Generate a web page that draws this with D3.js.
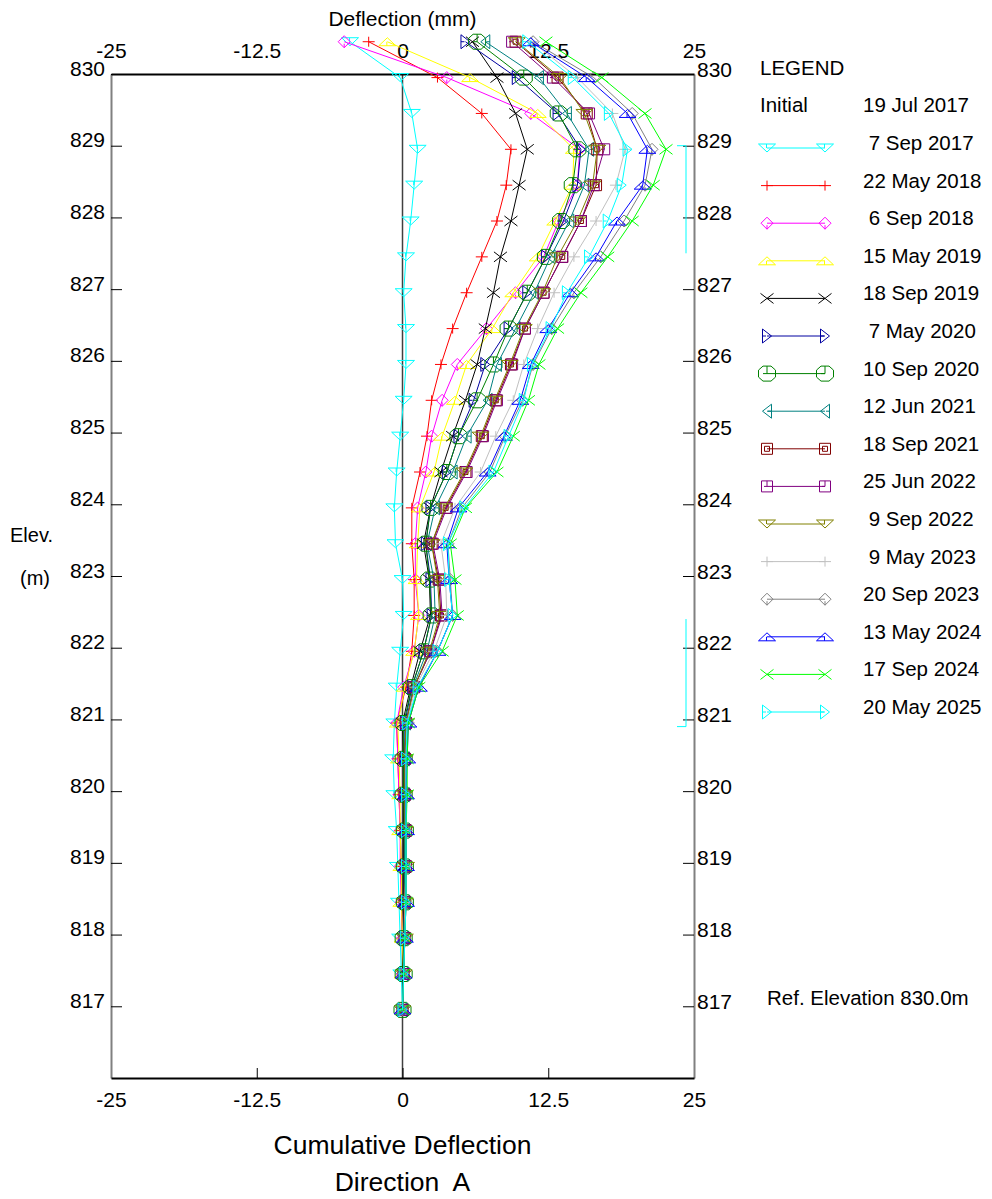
<!DOCTYPE html>
<html><head><meta charset="utf-8">
<script src="https://cdn.jsdelivr.net/npm/d3@7"></script>
<style>
html,body{margin:0;padding:0;background:#fff;}
svg{display:block;font-family:"Liberation Sans",Arial,sans-serif;}
</style></head><body>
<svg id="chart" width="992" height="1199"></svg>
<script>
// ---------------- DATA ----------------
const elevations = [830.45, 829.95, 829.45, 828.95, 828.45, 827.95, 827.45, 826.95, 826.45, 825.95,
  825.45, 824.95, 824.45, 823.95, 823.45, 822.95, 822.45, 821.95, 821.45, 820.95,
  820.45, 819.95, 819.45, 818.95, 818.45, 817.95, 817.45, 816.95];
const xTicks = [-25, -12.5, 0, 12.5, 25];
const yTicks = [817, 818, 819, 820, 821, 822, 823, 824, 825, 826, 827, 828, 829, 830];
const initialLabel = "Initial";
const initialDate = "19 Jul 2017";
const seriesDates = ["7 Sep 2017", "22 May 2018", "6 Sep 2018", "15 May 2019", "18 Sep 2019",
  "7 May 2020", "10 Sep 2020", "12 Jun 2021", "18 Sep 2021", "25 Jun 2022", "9 Sep 2022",
  "9 May 2023", "20 Sep 2023", "13 May 2024", "17 Sep 2024", "20 May 2025"];
const seriesColors = ["#00ffff", "#ff0000", "#ff00ff", "#ffff00", "#000000", "#0000a0", "#008000",
  "#008080", "#800000", "#800080", "#808000", "#c0c0c0", "#808080", "#0000ff", "#00ff00", "#00ffff"];
const seriesShapes = ["triDown", "plus", "diamond", "triUp", "cross", "triRight", "octagon", "triLeft",
  "squareIn", "square", "triDown", "plus", "diamond", "triUp", "cross", "triRight"];

const d_7Sep2017  = [-4.5, -0.2, 0.8, 1.3, 1.0, 0.7, 0.3, 0.1, 0.3, 0.3, 0.1, -0.2, -0.5, -0.7, -0.6, 0.0, 0.1, -0.2, -0.5, -0.7, -0.8, -0.7, -0.5, -0.4, -0.3, -0.2, -0.1, 0.0];
const d_22May2018 = [-2.9, 3.0, 6.8, 9.3, 8.9, 8.1, 6.8, 5.5, 4.3, 3.3, 2.5, 2.1, 1.5, 0.8, 0.8, 1.0, 1.0, 0.8, 0.3, -0.5, -0.4, -0.3, -0.2, -0.1, -0.1, 0.0, 0.0, 0.0];
const d_6Sep2018  = [-5.0, 3.8, 11.0, 15.2, 15.0, 13.4, 12.1, 9.7, 7.2, 4.7, 3.4, 2.5, 2.0, 1.3, 1.1, 1.1, 1.4, 1.0, 0.1, -0.5, -0.4, -0.3, -0.2, -0.2, -0.1, 0.0, 0.0, 0.0];
const d_15May2019 = [-1.3, 5.8, 11.6, 14.7, 14.6, 13.1, 11.6, 9.5, 7.7, 5.5, 4.5, 3.4, 2.7, 1.5, 1.3, 1.2, 1.4, 1.0, 0.2, -0.4, -0.3, -0.2, -0.2, -0.1, -0.1, 0.0, 0.0, 0.0];
const d_18Sep2019 = [6.0, 8.1, 9.7, 10.7, 10.0, 9.3, 8.4, 7.8, 7.1, 6.4, 5.4, 4.3, 3.3, 2.4, 1.8, 2.3, 2.4, 1.5, 0.7, 0.0, 0.1, 0.1, 0.1, 0.1, 0.1, 0.1, 0.0, 0.0];
const d_7May2020  = [5.4, 9.8, 13.3, 15.3, 15.0, 13.8, 12.3, 10.7, 9.1, 7.1, 6.1, 4.8, 3.8, 2.4, 2.0, 2.4, 2.5, 1.8, 0.8, 0.2, 0.2, 0.2, 0.2, 0.2, 0.2, 0.1, 0.1, 0.0];
const d_10Sep2020 = [6.4, 10.4, 13.4, 15.0, 14.6, 13.6, 12.3, 10.7, 9.1, 7.8, 6.4, 4.8, 3.8, 2.4, 2.0, 2.3, 2.5, 1.8, 0.8, 0.1, 0.1, 0.1, 0.2, 0.2, 0.2, 0.1, 0.1, 0.0];
const d_12Jun2021 = [7.1, 11.7, 14.1, 16.0, 15.6, 14.3, 12.7, 11.3, 9.7, 8.1, 7.3, 5.5, 4.3, 2.8, 2.1, 2.7, 2.8, 2.1, 0.9, 0.3, 0.2, 0.2, 0.2, 0.2, 0.2, 0.1, 0.1, 0.0];
const d_18Sep2021 = [9.7, 13.3, 15.8, 16.7, 16.6, 15.3, 13.7, 12.1, 10.5, 9.3, 8.0, 6.8, 5.4, 3.7, 2.5, 3.1, 3.3, 2.4, 1.0, 0.3, 0.2, 0.2, 0.3, 0.3, 0.2, 0.2, 0.1, 0.0];
const d_25Jun2022 = [9.4, 12.9, 16.0, 17.3, 16.4, 15.3, 13.7, 12.1, 10.5, 9.4, 8.1, 6.9, 5.5, 3.8, 2.6, 3.2, 3.4, 2.4, 1.0, 0.3, 0.2, 0.2, 0.3, 0.3, 0.2, 0.2, 0.1, 0.0];
const d_9Sep2022  = [9.8, 13.5, 15.6, 16.7, 16.3, 15.0, 13.3, 12.0, 10.4, 9.2, 7.9, 6.7, 5.3, 3.6, 2.5, 3.0, 3.2, 2.3, 1.0, 0.3, 0.2, 0.2, 0.2, 0.3, 0.2, 0.2, 0.1, 0.0];
const d_9May2023  = [11.1, 15.0, 18.0, 19.1, 18.3, 16.6, 14.7, 13.0, 11.6, 10.4, 9.5, 8.0, 6.7, 4.5, 3.3, 3.7, 3.8, 2.7, 1.1, 0.4, 0.3, 0.3, 0.3, 0.3, 0.2, 0.2, 0.1, 0.0];
const d_20Sep2023 = [11.2, 16.4, 19.7, 21.4, 20.8, 19.0, 17.0, 14.7, 12.8, 11.2, 10.3, 8.8, 7.5, 5.1, 3.9, 4.1, 4.3, 3.0, 1.3, 0.5, 0.3, 0.3, 0.3, 0.3, 0.3, 0.2, 0.1, 0.0];
const d_13May2024 = [11.0, 15.8, 19.3, 21.0, 20.6, 18.4, 16.6, 14.4, 12.5, 11.0, 10.1, 8.7, 7.3, 4.8, 3.8, 4.0, 4.3, 3.0, 1.4, 0.5, 0.4, 0.3, 0.3, 0.3, 0.3, 0.2, 0.1, 0.0];
const d_17Sep2024 = [12.3, 17.1, 20.8, 22.6, 21.5, 19.7, 17.6, 15.3, 13.3, 11.7, 10.8, 9.5, 8.1, 5.4, 4.1, 4.5, 4.7, 3.4, 1.4, 0.5, 0.4, 0.4, 0.3, 0.3, 0.3, 0.2, 0.1, 0.0];
const d_20May2025 = [10.7, 14.6, 17.7, 19.3, 18.8, 17.6, 16.0, 14.1, 12.7, 11.1, 10.4, 9.1, 7.8, 5.3, 3.9, 4.0, 4.3, 3.0, 1.3, 0.4, 0.3, 0.3, 0.3, 0.3, 0.3, 0.2, 0.1, 0.0];

const seriesValues = [d_7Sep2017, d_22May2018, d_6Sep2018, d_15May2019, d_18Sep2019, d_7May2020,
  d_10Sep2020, d_12Jun2021, d_18Sep2021, d_25Jun2022, d_9Sep2022, d_9May2023, d_20Sep2023,
  d_13May2024, d_17Sep2024, d_20May2025];

const zoneTop = [829.0, 822.4];
const zoneBottom = [827.5, 820.9];
const zoneCapAt = ["top", "bottom"];

// ---------------- CHART ----------------
const svg = d3.select("#chart");
const W = 992, H = 1199;
const plot = {left: 111, right: 694, top: 74, bottom: 1078};
const x = d3.scaleLinear().domain([-25, 25]).range([plot.left, plot.right]);
const y = d3.scaleLinear().domain([816, 830]).range([plot.bottom, plot.top]);

svg.append("rect").attr("width", W).attr("height", H).attr("fill", "#fff");

const tickFont = 21;
const fmt = d => String(d);

// zero line
svg.append("line").attr("x1", x(0)).attr("x2", x(0)).attr("y1", y(830)).attr("y2", y(816))
  .attr("stroke", "#404040").attr("stroke-width", 1.5);

// axes (inside ticks)
const leftAxis = d3.axisLeft(y).tickValues(yTicks).tickSize(-11).tickSizeOuter(0).tickPadding(6).tickFormat(fmt);
const rightAxis = d3.axisRight(y).tickValues(yTicks).tickSize(-11).tickSizeOuter(0).tickPadding(3).tickFormat(fmt);
const bottomAxis = d3.axisBottom(x).tickValues(xTicks).tickSize(-10).tickSizeOuter(0).tickPadding(14).tickFormat(fmt);
const topAxis = d3.axisTop(x).tickValues(xTicks).tickSize(0).tickSizeOuter(0).tickPadding(16).tickFormat(fmt);

function styleAxis(g, domainColor) {
  g.select(".domain").attr("stroke", domainColor).attr("stroke-width", 2);
  g.selectAll(".tick line").attr("stroke", "#000").attr("stroke-width", 1);
  g.selectAll(".tick text").attr("font-size", tickFont).attr("fill", "#000")
    .attr("font-family", "'Liberation Sans', Arial, sans-serif");
}
const gL = svg.append("g").attr("transform", `translate(${plot.left},0)`).call(leftAxis);
styleAxis(gL, "#808080");
gL.selectAll(".tick text").attr("dy", "0.05em");
const gR = svg.append("g").attr("transform", `translate(${plot.right},0)`).call(rightAxis);
styleAxis(gR, "#808080");
gR.selectAll(".tick text").attr("dy", "0.1em");
const gB = svg.append("g").attr("transform", `translate(0,${plot.bottom})`).call(bottomAxis);
styleAxis(gB, "#000");
gB.selectAll(".tick").filter(d => d === -25 || d === 25).select("line").remove();
const gT = svg.append("g").attr("transform", `translate(0,${plot.top})`).call(topAxis);
styleAxis(gT, "#000");
gT.selectAll(".tick line").remove();

// cyan zone brackets on right
zoneTop.forEach((t, i) => {
  const bx = plot.right - 8;
  svg.append("line").attr("x1", bx).attr("x2", bx).attr("y1", y(t)).attr("y2", y(zoneBottom[i]))
    .attr("stroke", "#00ffff").attr("stroke-width", 1);
  const capY = zoneCapAt[i] === "top" ? y(t) : y(zoneBottom[i]);
  svg.append("line").attr("x1", bx - 9).attr("x2", bx).attr("y1", capY).attr("y2", capY)
    .attr("stroke", "#00ffff").attr("stroke-width", 1);
});

// marker shapes
function shapePath(s) {
  switch (s) {
    case "triDown": return "M-8.5,-4L8.5,-4L0,4Z M-0.5,-4V0";
    case "triUp": return "M-8.5,4L8.5,4L0,-4Z M-0.5,4V0";
    case "triRight": return "M-4.5,-7L4.5,0L-4.5,7Z M-4.5,0H-1";
    case "triLeft": return "M4.5,-7L-4.5,0L4.5,7Z M4.5,0H1";
    case "plus": return "M-6,0H6M0,-5V5";
    case "cross": return "M-6.5,-5L6.5,5M-6.5,5L6.5,-5";
    case "diamond": return "M0,-6L6,0L0,6L-6,0Z M0,6V2";
    case "octagon": return "M-4,-7.5L4,-7.5L8.5,-3.5L8.5,3.5L4,7.5L-4,7.5L-8.5,3.5L-8.5,-3.5Z M0,-7.5V0H-4";
    case "square": return "M-5.5,-5.5H5.5V5.5H-5.5Z M0,-5.5V0H-3";
    case "squareIn": return "M-5.5,-5.5H5.5V5.5H-5.5Z M-2.5,-2.5H2.5V2.5H-2.5Z";
  }
  return "";
}

const line = d3.line().x(d => x(d[0])).y(d => y(d[1]));
seriesValues.forEach((vals, i) => {
  const pts = vals.map((v, j) => [v, elevations[j]]);
  const g = svg.append("g");
  g.append("path").attr("d", line(pts)).attr("fill", "none")
    .attr("stroke", seriesColors[i]).attr("stroke-width", 1);
  g.selectAll("path.mk").data(pts).enter().append("path").attr("class", "mk")
    .attr("d", shapePath(seriesShapes[i]))
    .attr("transform", d => `translate(${x(d[0])},${y(d[1])})`)
    .attr("fill", "none").attr("stroke", seriesColors[i]).attr("stroke-width", 1);
});

// titles
svg.append("text").attr("x", x(0)).attr("y", 26).attr("text-anchor", "middle")
  .attr("font-size", 21).text("Deflection (mm)");
svg.append("text").attr("x", x(0)).attr("y", 1154).attr("text-anchor", "middle")
  .attr("font-size", 26.5).text("Cumulative Deflection");
svg.append("text").attr("x", x(0)).attr("y", 1191).attr("text-anchor", "middle")
  .attr("font-size", 26.5).style("white-space", "pre").text("Direction  A");
svg.append("text").attr("x", 10).attr("y", 542).attr("font-size", 20).text("Elev.");
svg.append("text").attr("x", 20).attr("y", 585).attr("font-size", 20).text("(m)");
svg.append("text").attr("x", 767).attr("y", 1005).attr("font-size", 20.5).text("Ref. Elevation 830.0m");

// legend
const lg = svg.append("g");
const rowH = 37.6, row0 = 150, lx1 = 767, lx2 = 825, tx = 863;
lg.append("text").attr("x", 760).attr("y", row0 - 2 * rowH).attr("font-size", 20.5).text("LEGEND");
lg.append("text").attr("x", 760).attr("y", row0 - rowH).attr("font-size", 20.5).text(initialLabel);
lg.append("text").attr("x", tx).attr("y", row0 - rowH).attr("font-size", 20.5).text(initialDate);
seriesDates.forEach((lab, i) => {
  const by = row0 + i * rowH;
  const ly = by - 2;
  lg.append("line").attr("x1", lx1).attr("x2", lx2).attr("y1", ly).attr("y2", ly)
    .attr("stroke", seriesColors[i]).attr("stroke-width", 1);
  [lx1, lx2].forEach(mx => {
    lg.append("path").attr("d", shapePath(seriesShapes[i]))
      .attr("transform", `translate(${mx},${ly})`)
      .attr("fill", "none").attr("stroke", seriesColors[i]).attr("stroke-width", 1);
  });
  const single = lab.split(" ")[0].length === 1;
  lg.append("text").attr("x", tx + (single ? 5.7 : 0)).attr("y", by).attr("font-size", 20.5).text(lab);
});
</script>
</body></html>
